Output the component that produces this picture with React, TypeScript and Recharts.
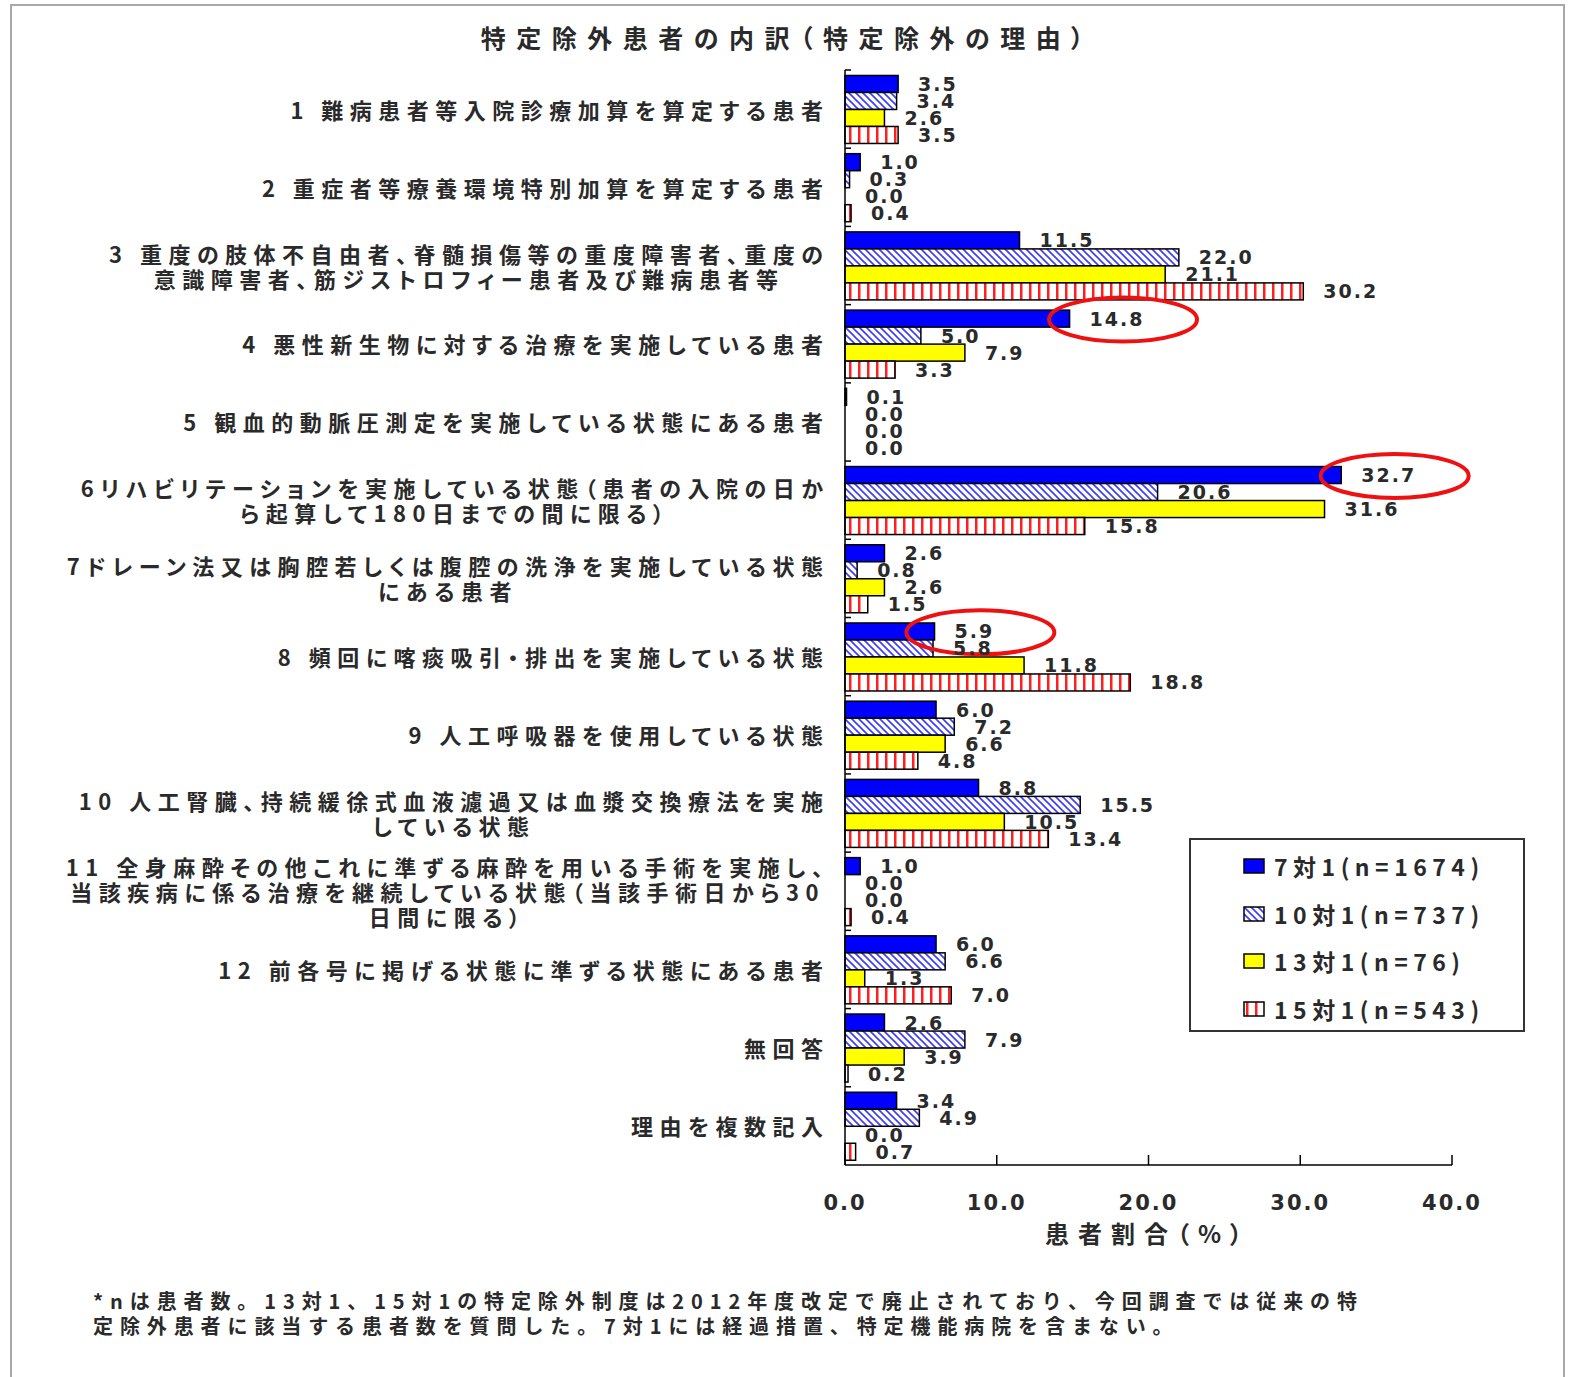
import React from 'react';
import { BarChart, Bar, XAxis, YAxis, Legend, LabelList, ReferenceDot } from 'recharts';

// category labels, one entry per line of the wrapped label
const categories: string[][] = [
  ['1 難病患者等入院診療加算を算定する患者'],
  ['2 重症者等療養環境特別加算を算定する患者'],
  ['3 重度の肢体不自由者、脊髄損傷等の重度障害者、重度の', '意識障害者、筋ジストロフィー患者及び難病患者等'],
  ['4 悪性新生物に対する治療を実施している患者'],
  ['5 観血的動脈圧測定を実施している状態にある患者'],
  ['6リハビリテーションを実施している状態（患者の入院の日か', 'ら起算して180日までの間に限る）'],
  ['7ドレーン法又は胸腔若しくは腹腔の洗浄を実施している状態', 'にある患者'],
  ['8 頻回に喀痰吸引・排出を実施している状態'],
  ['9 人工呼吸器を使用している状態'],
  ['10 人工腎臓、持続緩徐式血液濾過又は血漿交換療法を実施', 'している状態'],
  ['11 全身麻酔その他これに準ずる麻酔を用いる手術を実施し、', '当該疾病に係る治療を継続している状態（当該手術日から30', '日間に限る）'],
  ['12 前各号に掲げる状態に準ずる状態にある患者'],
  ['無回答'],
  ['理由を複数記入'],
];

const ratio7 = [3.5, 1.0, 11.5, 14.8, 0.1, 32.7, 2.6, 5.9, 6.0, 8.8, 1.0, 6.0, 2.6, 3.4];
const ratio10 = [3.4, 0.3, 22.0, 5.0, 0.0, 20.6, 0.8, 5.8, 7.2, 15.5, 0.0, 6.6, 7.9, 4.9];
const ratio13 = [2.6, 0.0, 21.1, 7.9, 0.0, 31.6, 2.6, 11.8, 6.6, 10.5, 0.0, 1.3, 3.9, 0.0];
const ratio15 = [3.5, 0.4, 30.2, 3.3, 0.0, 15.8, 1.5, 18.8, 4.8, 13.4, 0.4, 7.0, 0.2, 0.7];

const seriesNames = ['7対1(n=1674)', '10対1(n=737)', '13対1(n=76)', '15対1(n=543)'];
const xTicks = [0, 10, 20, 30, 40];
// rows whose 7対1 value is circled in red
const circledRows = [3, 5, 7];

const data = categories.map((lines, i) => ({
  name: lines.join(''),
  r7: ratio7[i],
  r10: ratio10[i],
  r13: ratio13[i],
  r15: ratio15[i],
}));

const series = [
  { key: 'r7', fill: '#0000ff' },
  { key: 'r10', fill: 'url(#hatchBlue)' },
  { key: 'r13', fill: '#ffff00' },
  { key: 'r15', fill: 'url(#stripeRed)' },
];

const JP = '"Noto Sans CJK JP", sans-serif';
const NUM = '"DejaVu Sans", sans-serif';
const TEXT = '#2a2a2a';

const PLOT_TOP = 70;
const PLOT_BOTTOM = 1165;
const BAND = (PLOT_BOTTOM - PLOT_TOP) / categories.length;

const CAT_FONT = 22;
const CAT_SPACING = 6.5;
const VAL_FONT = 19;
const VAL_SPACING = 2;

let ctx: CanvasRenderingContext2D | null = null;
function textWidth(s: string, font: string, spacing: number) {
  if (!ctx) ctx = document.createElement('canvas').getContext('2d');
  if (!ctx) return s.length * 20;
  ctx.font = font;
  return ctx.measureText(s).width + spacing * s.length;
}

const CategoryTick = (props: any) => {
  const { x, y, index } = props;
  const lines = categories[index] || [String(props.payload?.value)];
  const h = 90;
  return (
    <g>
      <line x1={x} x2={x + 6} y1={y - BAND / 2} y2={y - BAND / 2} stroke="#000" strokeWidth={1.5} />
      <foreignObject x={0} y={y - h / 2} width={x - 22} height={h}>
        <div
          style={{
            height: '100%',
            display: 'flex',
            alignItems: 'center',
            justifyContent: 'flex-end',
          }}
        >
          <div
            style={{
              textAlign: 'center',
              marginRight: -CAT_SPACING,
              fontFamily: JP,
              fontSize: CAT_FONT,
              fontWeight: 'bold',
              letterSpacing: CAT_SPACING,
              fontFeatureSettings: '"palt"',
              lineHeight: '25px',
              color: TEXT,
              whiteSpace: 'nowrap',
            }}
          >
            {lines.map((l, i) => (
              <div key={i}>{l}</div>
            ))}
          </div>
        </div>
      </foreignObject>
    </g>
  );
};

const ValueTick = (props: any) => {
  const { x, y, payload } = props;
  return (
    <g>
      <line x1={x} x2={x} y1={y} y2={y - 10} stroke="#000" strokeWidth={1.5} />
      <text
        x={x}
        y={y + 38}
        textAnchor="middle"
        dominantBaseline="central"
        fill={TEXT}
        style={{ fontFamily: NUM, fontSize: 21, fontWeight: 'bold', letterSpacing: 2 }}
      >
        {Number(payload.value).toFixed(1)}
      </text>
    </g>
  );
};

const BarShape = (props: any) => {
  const { x, y, width, height, fill } = props;
  if (!(width > 0.5)) return null;
  return <rect x={x} y={y} width={width} height={height} fill={fill} stroke="#000" strokeWidth={1.5} />;
};

const BarValue = (props: any) => {
  const { x, y, width, height, value } = props;
  return (
    <text
      x={x + Math.max(width, 0) + 20}
      y={y + height / 2}
      dominantBaseline="central"
      fill={TEXT}
      style={{ fontFamily: NUM, fontSize: VAL_FONT, fontWeight: 'bold', letterSpacing: VAL_SPACING }}
    >
      {Number(value).toFixed(1)}
    </text>
  );
};

const Ring = (props: any) => {
  const { cx, cy, label } = props;
  const w = textWidth(label, `bold ${VAL_FONT}px ${NUM}`, VAL_SPACING);
  return (
    <ellipse
      cx={cx + 26 + w / 2}
      cy={cy - BAND * 0.31}
      rx={74}
      ry={22}
      fill="none"
      stroke="#ee1111"
      strokeWidth={4}
    />
  );
};

const LegendBox = () => (
  <div
    style={{
      width: 336,
      height: 194,
      border: '2px solid #333',
      boxSizing: 'border-box',
      background: '#fff',
      paddingTop: 2,
    }}
  >
    {seriesNames.map((n, i) => (
      <div key={n} style={{ display: 'flex', alignItems: 'center', height: 47.7, paddingLeft: 52 }}>
        <svg width={22} height={16}>
          <rect x={1} y={1} width={20} height={14} fill={series[i].fill} stroke="#000" strokeWidth={1.5} />
        </svg>
        <span
          style={{
            marginLeft: 9,
            fontFamily: JP,
            fontSize: 23,
            fontWeight: 'bold',
            letterSpacing: 5.5,
            color: TEXT,
            whiteSpace: 'nowrap',
          }}
        >
          {n}
        </span>
      </div>
    ))}
  </div>
);

export default function App() {
  return (
    <div
      style={{
        position: 'absolute',
        left: 0,
        top: 0,
        width: 1575,
        height: 1377,
        overflow: 'hidden',
        background: '#fff',
      }}
    >
      <svg width={0} height={0} style={{ position: 'absolute' }}>
        <defs>
          <pattern id="hatchBlue" width={7} height={7} patternUnits="userSpaceOnUse">
            <rect width={7} height={7} fill="#fff" />
            <path d="M-1,-1 L8,8 M-1,6 L1,8 M6,-1 L8,1" stroke="#3a3aff" strokeWidth={1.6} />
          </pattern>
          <pattern id="stripeRed" width={9} height={10} patternUnits="userSpaceOnUse">
            <rect width={9} height={10} fill="#fff" />
            <rect x={3} width={2.5} height={10} fill="#ff1f1f" />
          </pattern>
        </defs>
      </svg>

      <div
        style={{
          position: 'absolute',
          left: 10,
          top: 4,
          width: 1551,
          height: 1380,
          borderTop: '2px solid #a8a8a8',
          borderLeft: '2px solid #a8a8a8',
          borderRight: '2px solid #a8a8a8',
        }}
      />

      <div
        style={{
          position: 'absolute',
          left: 0,
          top: 21,
          width: 1575,
          lineHeight: '32px',
          textAlign: 'center',
          fontFamily: JP,
          fontSize: 25,
          fontWeight: 'bold',
          letterSpacing: 10.5,
          fontFeatureSettings: '"palt"',
          color: TEXT,
        }}
      >
        特定除外患者の内訳（特定除外の理由）
      </div>

      <div style={{ position: 'absolute', left: 0, top: 0 }}>
        <BarChart
          width={1575}
          height={1260}
          data={data}
          layout="vertical"
          margin={{ top: PLOT_TOP, right: 123, bottom: 35, left: 0 }}
          barCategoryGap="7%"
          barGap={0}
        >
          <XAxis
            type="number"
            domain={[0, 40]}
            ticks={xTicks}
            interval={0}
            height={60}
            tickSize={0}
            tickMargin={0}
            tickLine={false}
            axisLine={{ stroke: '#000', strokeWidth: 1.5 }}
            tick={<ValueTick />}
          />
          <YAxis
            type="category"
            dataKey="name"
            width={845}
            interval={0}
            tickSize={0}
            tickMargin={0}
            tickLine={false}
            axisLine={{ stroke: '#000', strokeWidth: 1.5 }}
            tick={<CategoryTick />}
          />
          {series.map((s) => (
            <Bar
              key={s.key}
              dataKey={s.key}
              fill={s.fill}
              minPointSize={0.01}
              shape={<BarShape />}
              isAnimationActive={false}
            >
              <LabelList dataKey={s.key} content={<BarValue />} />
            </Bar>
          ))}
          {circledRows.map((i) => (
            <ReferenceDot
              key={i}
              x={ratio7[i]}
              y={data[i].name}
              ifOverflow="visible"
              shape={(p: any) => <Ring {...p} label={ratio7[i].toFixed(1)} />}
            />
          ))}
          <Legend
            layout="horizontal"
            verticalAlign="middle"
            align="center"
            wrapperStyle={{ left: 1189, top: 838, width: 336, height: 194 }}
            content={<LegendBox />}
          />
        </BarChart>
      </div>

      <div
        style={{
          position: 'absolute',
          left: 1148 - 150,
          top: 1217,
          width: 300,
          lineHeight: '32px',
          textAlign: 'center',
          fontFamily: JP,
          fontSize: 24,
          fontWeight: 'bold',
          letterSpacing: 9,
          fontFeatureSettings: '"palt"',
          color: TEXT,
        }}
      >
        患者割合（%）
      </div>

      <div
        style={{
          position: 'absolute',
          left: 93,
          top: 1288,
          lineHeight: '25px',
          fontFamily: JP,
          fontSize: 20,
          fontWeight: 'bold',
          letterSpacing: 6.9,
          color: TEXT,
          whiteSpace: 'nowrap',
        }}
      >
        *nは患者数。13対1、15対1の特定除外制度は2012年度改定で廃止されており、今回調査では従来の特
        <br />
        定除外患者に該当する患者数を質問した。7対1には経過措置、特定機能病院を含まない。
      </div>
    </div>
  );
}
